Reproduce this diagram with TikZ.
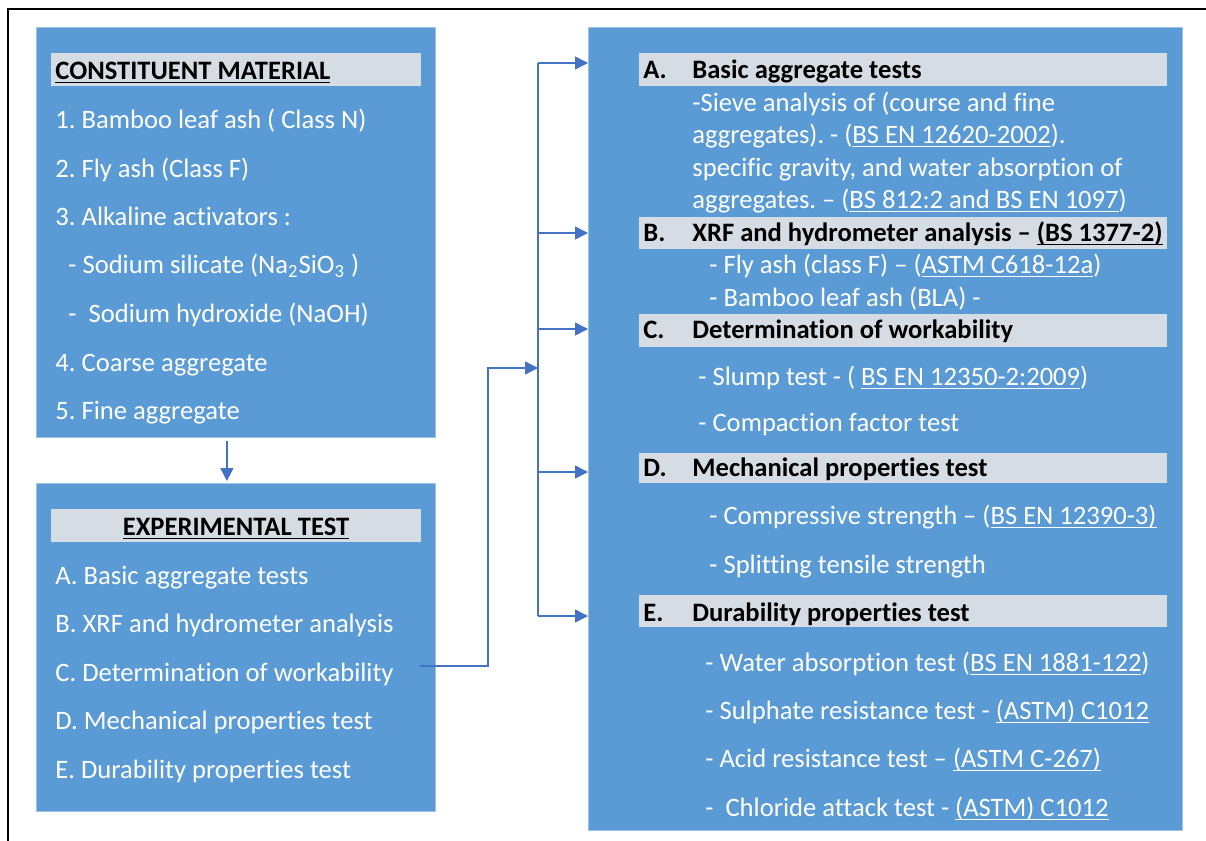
\documentclass[tikz,border=0pt]{standalone}
\usepackage{fontspec}
\setmainfont{Carlito}[Ligatures={TeX,NoCommon}]
\frenchspacing
\usepackage{xcolor}
\definecolor{boxBlue}{HTML}{5B9BD5}
\definecolor{edgeBlue}{HTML}{9DC3E6}
\definecolor{bandGray}{HTML}{D6DCE4}
\definecolor{lineBlue}{HTML}{4472C4}
\usepackage{tikz}
\usetikzlibrary{
    arrows.meta,
    positioning,
    calc
}
% Underline at a fixed depth below the baseline
\newsavebox\ulbox
\newcommand{\ulword}[1]{\sbox\ulbox{#1}\rlap{\rule[-2.2pt]{\wd\ulbox}{0.6pt}}\usebox\ulbox}
\tikzset{
    % Base style for all text lines
    item/.style={
        anchor=base west,
        inner sep=0pt,
        text=white,
        font=\fontsize{13.3}{16}\selectfont,
    },
    % Heading text on the gray bands
    heading/.style={
        item,
        text=black,
        font=\fontsize{13.3}{16}\selectfont\bfseries,
    },
    % Blue panels
    panel/.style={
        rectangle,
        anchor=north west,
        inner sep=0pt,
        fill=boxBlue,
        draw=edgeBlue,
        line width=0.4pt,
    },
    % Gray heading bands
    band/.style={
        rectangle,
        anchor=north west,
        inner sep=0pt,
        fill=bandGray,
    },
    % Connector with arrow
    arrow/.style={
        -{Triangle[length=6.5pt, width=6.5pt]},
        line width=0.75pt,
        draw=lineBlue,
    },
    % Plain connector
    link/.style={
        line width=0.75pt,
        draw=lineBlue,
    },
}

\begin{document}
\begin{tikzpicture}[x=0.5pt, y=-0.5pt]
    \useasboundingbox (0,0) rectangle (1206,841);
    \draw [line width=1.2pt] (8,850) -- (8,9) -- (1215,9);

    % Panels
    \node (mat) [panel, minimum width=199.5pt, minimum height=205pt] at (36,27) {};
    \node (exp) [panel, minimum width=199.5pt, minimum height=164pt] at (36,483) {};
    \node (tests) [panel, minimum width=297pt, minimum height=401.5pt] at (588,27) {};

    % Bands
    \node (hmat) [band, minimum width=185pt, minimum height=16.5pt] at (51,53) {};
    \node (hexp) [band, minimum width=185pt, minimum height=16.5pt] at (51,509) {};
    \node (bandA) [band, minimum width=264pt, minimum height=16.5pt] at (639,53) {};
    \node (bandB) [band, minimum width=264pt, minimum height=16pt] at (639,217) {};
    \node (bandC) [band, minimum width=264pt, minimum height=16.5pt] at (639,314) {};
    \node (bandD) [band, minimum width=264pt, minimum height=15pt] at (639,453) {};
    \node (bandE) [band, minimum width=264pt, minimum height=16pt] at (639,595) {};

    % Constituent material
    \node [heading] at (55,79) {\ulword{CONSTITUENT MATERIAL}};
    \node [item] at (55,128) {1. Bamboo leaf ash ( Class N)};
    \node [item] at (55,177) {2. Fly ash (Class F)};
    \node [item] at (55,225) {3. Alkaline activators :};
    \node [item] at (68,273) {- Sodium silicate (Na\textsubscript{2}SiO\textsubscript{3} )};
    \node [item] at (68,322) {-\ \ Sodium hydroxide (NaOH)};
    \node [item] at (55,371) {4. Coarse aggregate};
    \node [item] at (55,419) {5. Fine aggregate};

    % Experimental test
    \node [heading, anchor=base] at (236,535) {\ulword{EXPERIMENTAL TEST}};
    \node [item] at (55,584) {A. Basic aggregate tests};
    \node [item] at (55,632) {B. XRF and hydrometer analysis};
    \node [item] at (55,681) {C. Determination of workability};
    \node [item] at (55,729) {D. Mechanical properties test};
    \node [item] at (55,778) {E. Durability properties test};

    % Test details
    \node [heading] at (643,78) {A.};
    \node [heading] at (692,78) {Basic aggregate tests};
    \node [item] at (692,111) {-Sieve analysis of (course and fine};
    \node [item] at (692,143) {aggregates). - (\ulword{BS EN 12620-2002}).};
    \node [item] at (692,176) {specific gravity, and water absorption of};
    \node [item] at (692,208) {aggregates. – (\ulword{BS 812:2 and BS EN 1097})};
    \node [heading] at (643,241) {B.};
    \node [heading] at (692,241) {XRF and hydrometer analysis – \ulword{(BS 1377-2)}};
    \node [item] at (709,273) {- Fly ash (class F) – (\ulword{ASTM C618-12a})};
    \node [item] at (709,306) {- Bamboo leaf ash (BLA) -};
    \node [heading] at (643,338) {C.};
    \node [heading] at (692,338) {Determination of workability};
    \node [item] at (698,385) {- Slump test - ( \ulword{BS EN 12350-2:2009})};
    \node [item] at (698,431) {- Compaction factor test};
    \node [heading] at (643,476) {D.};
    \node [heading] at (692,476) {Mechanical properties test};
    \node [item] at (709,524) {- Compressive strength – (\ulword{BS EN 12390-3)}};
    \node [item] at (709,573) {- Splitting tensile strength};
    \node [heading] at (643,621) {E.};
    \node [heading] at (692,621) {Durability properties test};
    \node [item] at (705,671) {- Water absorption test (\ulword{BS EN 1881-122})};
    \node [item] at (705,719) {- Sulphate resistance test - \ulword{(ASTM) C1012}};
    \node [item] at (705,767) {- Acid resistance test – \ulword{(ASTM C-267)}};
    \node [item] at (705,816) {-\ \ Chloride attack test - \ulword{(ASTM) C1012}};

    % Connectors
    \coordinate (expout) at (420,666);
    \coordinate (feed) at (488,368);
    \coordinate (tapA) at (538,63);
    \coordinate (tapB) at (538,233);
    \coordinate (tapC) at (538,329);
    \coordinate (tapD) at (538,472);
    \coordinate (tapE) at (538,616);

    \draw [arrow, shorten <=1.5pt, shorten >=1pt] ([xshift=-4.5pt]mat.south) -- ([xshift=-4.5pt]exp.north);
    \draw [link] (tapA) -- (tapE);
    \draw [arrow] (expout) -| (feed) -- (feed -| tapA);
    \draw [arrow] (tapA) -- (tapA -| tests.west);
    \draw [arrow] (tapB) -- (tapB -| tests.west);
    \draw [arrow] (tapC) -- (tapC -| tests.west);
    \draw [arrow] (tapD) -- (tapD -| tests.west);
    \draw [arrow] (tapE) -- (tapE -| tests.west);
\end{tikzpicture}
\end{document}
